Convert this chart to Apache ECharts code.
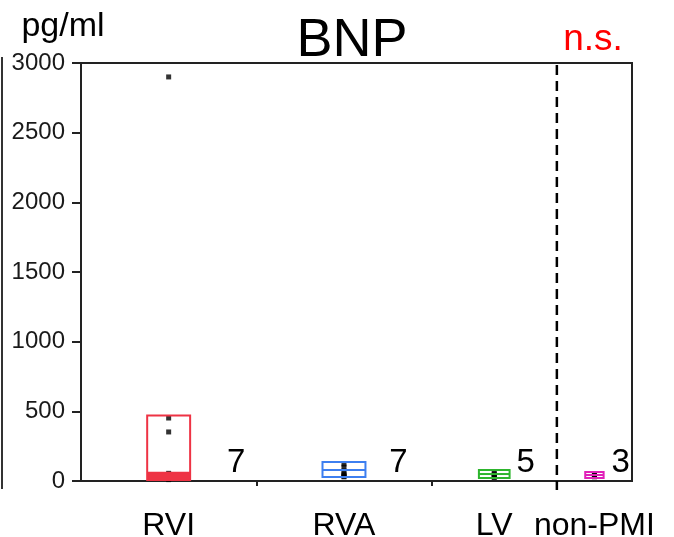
<!DOCTYPE html>
<html>
<head>
<meta charset="utf-8">
<script src="https://cdn.jsdelivr.net/npm/echarts@6/dist/echarts.min.js"></script>
<style>html,body{margin:0;padding:0;background:#fff}#c{width:674px;height:537px}</style>
</head>
<body>
<div id="c"></div>
<script>
// ---- data ----
const categories = ['RVI', 'RVA', 'LV', 'non-PMI'];
const counts = [7, 7, 5, 3];
const q1 = [8, 29, 22, 22];
const median = [60, 79, 50, 43];
const q3 = [470, 136, 79, 65];
const rviPoints = [2900, 452, 352, 55, 35, 20, 10];
const rvaPoints = [122, 72, 100, 50, 40, 35, 30];
const lvPoints = [50, 60, 40, 30, 25];
const nonPmiPoints = [45, 40, 30];
const yTicks = [0, 500, 1000, 1500, 2000, 2500, 3000];
const title = 'BNP';
const unit = 'pg/ml';
const sigText = 'n.s.';

// ---- derived ----
const total = counts.reduce((a, b) => a + b, 0);
const starts = [], centers = [], ends = [];
let acc = 0;
counts.forEach(n => { starts.push(acc); centers.push(acc + n / 2); acc += n; ends.push(acc); });
const boundaries = ends.slice(0, -1);
const allPoints = [rviPoints, rvaPoints, lvPoints, nonPmiPoints];

// ---- styles ----
const colors = ['#ee3344', '#3d7ff0', '#2db52d', '#e020b8'];
const lowerFill = [true, false, false, false];
const boxWidthPerN = 0.245;
const nLabelDx = [46, 33, 16, 17];

const chart = echarts.init(document.getElementById('c'));

const boxData = categories.map((c, i) => [centers[i], q1[i], median[i], q3[i], counts[i], i]);
const pointData = [];
allPoints.forEach((pts, i) => pts.forEach(v => pointData.push([centers[i], v])));

function renderBox(params, api) {
  const cx = api.value(0), lo = api.value(1), md = api.value(2), hi = api.value(3), n = api.value(4), i = api.value(5);
  const w = api.size([n * boxWidthPerN, 0])[0];
  const pLo = api.coord([cx, lo]), pMd = api.coord([cx, md]), pHi = api.coord([cx, hi]);
  const x0 = pLo[0] - w / 2;
  const col = colors[i];
  const children = [];
  if (lowerFill[i]) {
    children.push({ type: 'rect', shape: { x: x0, y: pMd[1], width: w, height: pLo[1] - pMd[1] + 1 }, style: { fill: col } });
  }
  children.push({ type: 'rect', shape: { x: x0, y: pHi[1], width: w, height: pLo[1] - pHi[1] }, style: { fill: 'none', stroke: col, lineWidth: 2 } });
  children.push({ type: 'line', shape: { x1: x0, y1: pMd[1], x2: x0 + w, y2: pMd[1] }, style: { stroke: col, lineWidth: 2 } });
  const pEnd = api.coord([cx, 0]);
  children.push({ type: 'text', style: { text: String(n), x: pLo[0] + w / 2 + nLabelDx[i], y: pEnd[1] - 18, align: 'center', verticalAlign: 'middle', font: '33px "Liberation Sans"', fill: '#000' } });
  return { type: 'group', children };
}

function renderDivider(params, api) {
  const top = api.coord([api.value(0), 3000]);
  const bot = api.coord([api.value(0), 0]);
  return { type: 'line', shape: { x1: top[0], y1: top[1] + 2, x2: bot[0], y2: bot[1] + 9 }, style: { stroke: '#000', lineWidth: 2.5, lineDash: [10, 6] } };
}

chart.setOption({
  animation: false,
  grid: { left: 81, right: 42, top: 63, bottom: 56, show: true, borderColor: '#222', borderWidth: 2, containLabel: false, outerBoundsMode: 'none' },
  xAxis: {
    type: 'value', min: 0, max: total,
    axisLine: { show: true, lineStyle: { color: '#222', width: 2 } },
    axisTick: { show: true, customValues: boundaries, length: 5, lineStyle: { color: '#222', width: 2 } },
    axisLabel: {
      customValues: centers, margin: 29,
      fontFamily: 'Liberation Sans', fontSize: 32, color: '#000',
      formatter: v => { const k = centers.findIndex(c => Math.abs(c - v) < 1e-6); return k >= 0 ? categories[k] : ''; }
    },
    splitLine: { show: false }
  },
  yAxis: {
    type: 'value', min: 0, max: 3000, interval: 500,
    axisLine: { show: true, lineStyle: { color: '#222', width: 2 } },
    axisTick: { show: true, length: 9, lineStyle: { color: '#222', width: 2 } },
    axisLabel: { margin: 16, fontFamily: 'Liberation Sans', fontSize: 24, color: '#1a1a1a',
      formatter: v => yTicks.includes(v) ? String(v) : '' },
    splitLine: { show: false }
  },
  graphic: [
    { type: 'text', x: 352, y: 41, style: { text: title, align: 'center', verticalAlign: 'middle', font: '54px "Liberation Sans"', fill: '#000' } },
    { type: 'text', x: 63, y: 27, style: { text: unit, align: 'center', verticalAlign: 'middle', font: '34px "Liberation Sans"', fill: '#000' } },
    { type: 'text', x: 593, y: 40, style: { text: sigText, align: 'center', verticalAlign: 'middle', font: '37px "Liberation Sans"', fill: '#ff0000' } },
    { type: 'line', shape: { x1: 2, y1: 57, x2: 2, y2: 489 }, style: { stroke: '#333', lineWidth: 2 } }
  ],
  series: [
    { type: 'scatter', data: pointData, symbol: 'rect', symbolSize: 5, itemStyle: { color: '#000' }, z: 1 },
    { type: 'custom', data: boxData, renderItem: renderBox, z: 2, clip: false },
    { type: 'custom', data: [[boundaries[boundaries.length - 1]]], renderItem: renderDivider, z: 3, clip: false }
  ]
});
</script>
</body>
</html>
